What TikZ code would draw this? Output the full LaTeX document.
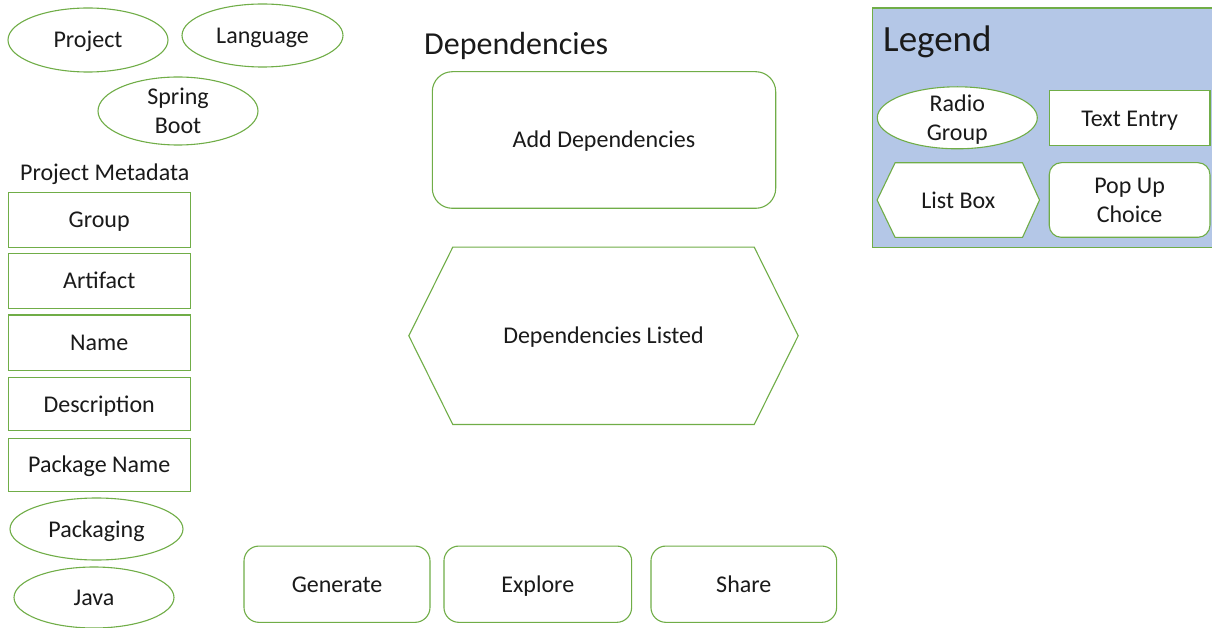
\documentclass[tikz,border=0pt]{standalone}
\usepackage{fontspec}
\setmainfont{Carlito}
\usetikzlibrary{shapes.geometric}
\definecolor{gline}{HTML}{70AD47}
\definecolor{legfill}{HTML}{B4C7E7}
\definecolor{ink}{HTML}{1A1A1A}
\tikzset{
  every node/.style={text=ink, font=\fontsize{24}{29}\selectfont},
  base/.style={draw=gline, line width=1.1pt, fill=white, inner sep=0pt, align=center},
  one/.style={text height=16pt, text depth=0pt},
  radio/.style={base, ellipse},
  entry/.style={base, rectangle},
  popup/.style={base, rectangle, rounded corners=#1},
  popup/.default=15pt,
  lbox/.style={inner sep=0pt, align=center},
  hexline/.style={draw=gline, line width=1.1pt, fill=white},
  title/.style={inner sep=0pt, anchor=base west}
}
\begin{document}
\begin{tikzpicture}[x=1pt,y=-1pt]
\useasboundingbox (0,0) rectangle (1212,628);
% Legend panel
\path[fill=legfill, draw=gline, line width=1.1pt] (872.7,8) rectangle (1220,247.3);
\node[title, font=\fontsize{37}{44}\selectfont] (legt) at (883,51.5) {Legend};
\node[radio, minimum width=160pt, minimum height=62pt] (lradio) at (957.3,117.8) {};
\node[lbox] (lradiotext) at (957.3,119.8) {Radio\\Group};
\node[entry, one, minimum width=160.7pt, minimum height=55.3pt] (lentry) at (1129.6,118.3) {Text Entry};
\node[lbox, minimum width=162pt, minimum height=74.3pt] (llist) at (958.3,200.1) {};
\draw[hexline] (llist.west) -- ([xshift=18pt]llist.north west) -- ([xshift=-17pt]llist.north east) -- (llist.east) -- ([xshift=-17pt]llist.south east) -- ([xshift=18pt]llist.south west) -- cycle;
\node[lbox, one] (llisttext) at (llist) {List Box};
\node[popup=12pt, minimum width=160.7pt, minimum height=74.6pt] (lpop) at (1129.6,200) {Pop Up\\Choice};
% Left column
\node[radio, one, minimum width=160pt, minimum height=64pt] (project) at (88,40) {Project};
\node[radio, one, minimum width=161pt, minimum height=63pt] (language) at (262.5,35.5) {Language};
\node[radio, minimum width=160pt, minimum height=68pt] (spring) at (178,111) {Spring\\Boot};
\node[title] (meta) at (20,181) {Project Metadata};
\node[entry, one, minimum width=181.7pt, minimum height=54.6pt] (group) at (99.2,220) {Group};
\node[entry, one, minimum width=181.7pt, minimum height=55pt] (artifact) at (99.2,280.8) {Artifact};
\node[entry, one, minimum width=181.7pt, minimum height=55.7pt] (name) at (99.2,342.8) {Name};
\node[entry, one, minimum width=181.7pt, minimum height=53.4pt] (desc) at (99.2,404) {Description};
\node[entry, one, minimum width=181.7pt, minimum height=52.7pt] (pkgname) at (99.2,464.7) {Package Name};
\node[radio, one, minimum width=173pt, minimum height=62pt] (packaging) at (96.5,529) {Packaging};
\node[radio, one, minimum width=160pt, minimum height=61pt] (java) at (94,597.5) {Java};
% Center
\node[title, font=\fontsize{32}{38}\selectfont] (dtitle) at (424,55) {Dependencies};
\node[popup=20pt, one, minimum width=343.4pt, minimum height=136.6pt] (adddeps) at (604,140) {Add Dependencies};
\node[lbox, minimum width=389pt, minimum height=177pt] (listed) at (603.5,335.8) {};
\draw[hexline] (listed.west) -- ([xshift=44pt]listed.north west) -- ([xshift=-44pt]listed.north east) -- (listed.east) -- ([xshift=-44pt]listed.south east) -- ([xshift=44pt]listed.south west) -- cycle;
\node[lbox, one] (listedtext) at (listed) {Dependencies Listed};
% Buttons
\node[popup, one, minimum width=186pt, minimum height=76.3pt] (generate) at (337,584.2) {Generate};
\node[popup, one, minimum width=187.7pt, minimum height=76.3pt] (explore) at (537.8,584.2) {Explore};
\node[popup, one, minimum width=185.7pt, minimum height=76.3pt] (share) at (743.8,584.2) {Share};
\end{tikzpicture}
\end{document}
